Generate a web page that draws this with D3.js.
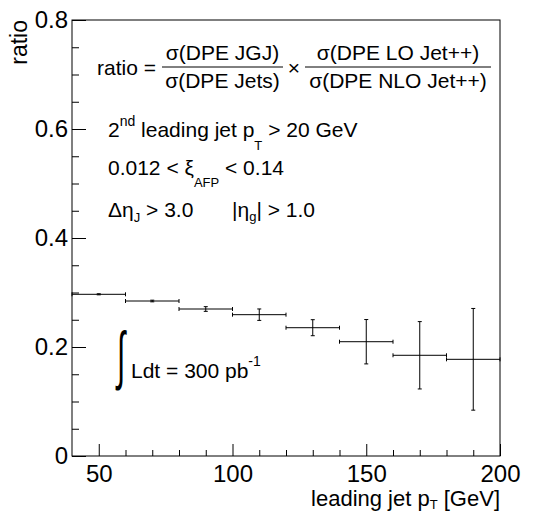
<!DOCTYPE html>
<html>
<head>
<meta charset="utf-8">
<script src="https://cdn.jsdelivr.net/npm/d3@7"></script>
<style>
  html, body { margin: 0; padding: 0; background: #fff; }
  svg { display: block; }
  text { font-family: "Liberation Sans", Arial, Helvetica, sans-serif; fill: #000; }
</style>
</head>
<body>
<script>
// ---- data ----
const binLow  = [40, 60, 80, 100, 120, 140, 160, 180];
const binHigh = [60, 80, 100, 120, 140, 160, 180, 200];
const binCenters = [50, 70, 90, 110, 130, 150, 170, 190];
const ratioValues = [0.2967, 0.2844, 0.2697, 0.2593, 0.2354, 0.2097, 0.1848, 0.1774];
const ratioErrors = [0.001, 0.0015, 0.0043, 0.0105, 0.0147, 0.0407, 0.0618, 0.0933];
const xMajorTicks = [50, 100, 150, 200];
const xMinorTicks = [60, 70, 80, 90, 110, 120, 130, 140, 160, 170, 180, 190];
const yMajorTicks = [0, 0.2, 0.4, 0.6, 0.8];
const yTickLabels = ["0", "0.2", "0.4", "0.6", "0.8"];
const yMinorTicks = [0.05, 0.1, 0.15, 0.25, 0.3, 0.35, 0.45, 0.5, 0.55, 0.65, 0.7, 0.75];

const W = 543, H = 512;
const m = {left: 72, right: 43, top: 20, bottom: 56};
const iw = W - m.left - m.right, ih = H - m.top - m.bottom;

const svg = d3.select("body").append("svg").attr("width", W).attr("height", H);
const g = svg.append("g").attr("transform", `translate(${m.left},${m.top})`);

const x = d3.scaleLinear().domain([40, 200]).range([0, iw]);
const y = d3.scaleLinear().domain([0, 0.8]).range([ih, 0]);

// axes
const xMaj = d3.axisBottom(x).tickValues(xMajorTicks).tickSizeInner(-12).tickSizeOuter(0).tickPadding(9);
const xMin = d3.axisBottom(x).tickValues(xMinorTicks).tickSizeInner(-6).tickSizeOuter(0).tickFormat("");
const yMaj = d3.axisLeft(y).tickValues(yMajorTicks).tickSizeInner(-14).tickSizeOuter(0).tickPadding(4)
  .tickFormat((d, i) => yTickLabels[i]);
const yMin = d3.axisLeft(y).tickValues(yMinorTicks).tickSizeInner(-7).tickSizeOuter(0).tickFormat("");

function styleAxis(sel) {
  sel.select(".domain").remove();
  sel.selectAll("line").attr("stroke", "#000").attr("stroke-width", 1);
  sel.selectAll("text").attr("font-size", 24).attr("font-family", "Liberation Sans, Arial, sans-serif").attr("fill", "#000");
}
g.append("g").attr("transform", `translate(0,${ih})`).call(xMaj).call(styleAxis);
g.append("g").attr("transform", `translate(0,${ih})`).call(xMin).call(styleAxis);
g.append("g").call(yMaj).call(styleAxis);
g.append("g").call(yMin).call(styleAxis);

// frame
g.append("rect").attr("x", 0).attr("y", 0).attr("width", iw).attr("height", ih)
  .attr("fill", "none").attr("stroke", "#000").attr("stroke-width", 1);

// data error bars
const data = binCenters.map((c, i) => ({c, lo: binLow[i], hi: binHigh[i], v: ratioValues[i], e: ratioErrors[i]}));
const bars = g.append("g").attr("stroke", "#000").attr("stroke-width", 1).attr("fill", "none");
data.forEach(d => {
  const yv = y(d.v);
  bars.append("line").attr("x1", x(d.lo)).attr("x2", x(d.hi)).attr("y1", yv).attr("y2", yv);
  bars.append("line").attr("x1", x(d.lo)).attr("x2", x(d.lo)).attr("y1", yv - 2).attr("y2", yv + 2);
  bars.append("line").attr("x1", x(d.hi)).attr("x2", x(d.hi)).attr("y1", yv - 2).attr("y2", yv + 2);
  const xc = x(d.c);
  bars.append("line").attr("x1", xc).attr("x2", xc).attr("y1", y(d.v - d.e)).attr("y2", y(d.v + d.e));
  bars.append("line").attr("x1", xc - 2).attr("x2", xc + 2).attr("y1", y(d.v - d.e)).attr("y2", y(d.v - d.e));
  bars.append("line").attr("x1", xc - 2).attr("x2", xc + 2).attr("y1", y(d.v + d.e)).attr("y2", y(d.v + d.e));
});

// axis titles
const xt = svg.append("text").attr("x", 500).attr("y", 506).attr("text-anchor", "end").attr("font-size", 22);
xt.append("tspan").text("leading jet p");
xt.append("tspan").attr("font-size", 13).attr("dy", 3).text("T");
xt.append("tspan").attr("dy", -3).text(" [GeV]");

svg.append("text").attr("transform", "translate(27,20) rotate(-90)").attr("text-anchor", "end")
  .attr("font-size", 23).text("ratio");

// formula
const FS = 21;
svg.append("text").attr("x", 97).attr("y", 75).attr("font-size", FS).text("ratio =");
function frac(x1, x2, num, den) {
  const cx = (x1 + x2) / 2;
  svg.append("text").attr("x", cx).attr("y", 60).attr("text-anchor", "middle").attr("font-size", FS).text(num);
  svg.append("text").attr("x", cx).attr("y", 88).attr("text-anchor", "middle").attr("font-size", FS).text(den);
  svg.append("line").attr("x1", x1).attr("x2", x2).attr("y1", 67).attr("y2", 67).attr("stroke", "#000").attr("stroke-width", 1);
}
frac(162, 283, "σ(DPE JGJ)", "σ(DPE Jets)");
svg.append("text").attr("x", 294).attr("y", 75).attr("text-anchor", "middle").attr("font-size", FS).text("×");
frac(305, 491, "σ(DPE LO Jet++)", "σ(DPE NLO Jet++)");

// cut labels
const t1 = svg.append("text").attr("x", 108).attr("y", 137).attr("font-size", FS);
t1.append("tspan").text("2");
t1.append("tspan").attr("font-size", 14).attr("dy", -11).text("nd");
t1.append("tspan").attr("dy", 11).text(" leading jet p");
t1.append("tspan").attr("font-size", 13).attr("dy", 13).text("T");
t1.append("tspan").attr("dy", -13).text(" > 20 GeV");

const t2 = svg.append("text").attr("x", 108).attr("y", 175).attr("font-size", FS);
t2.append("tspan").text("0.012 < ξ");
t2.append("tspan").attr("font-size", 13).attr("dy", 12).text("AFP");
t2.append("tspan").attr("dy", -12).text(" < 0.14");

const t3 = svg.append("text").attr("x", 108).attr("y", 217).attr("font-size", FS);
t3.append("tspan").text("Δη");
t3.append("tspan").attr("font-size", 13).attr("dy", 5).text("J");
t3.append("tspan").attr("dy", -5).text(" > 3.0");

const t4 = svg.append("text").attr("x", 232).attr("y", 217).attr("font-size", FS);
t4.append("tspan").text("|η");
t4.append("tspan").attr("font-size", 13).attr("dy", 4).text("g");
t4.append("tspan").attr("dy", -4).text("| > 1.0");

// luminosity
svg.append("text").attr("transform", "translate(117,377) scale(0.75,1.6)").attr("font-size", 40).text("∫");
const t5 = svg.append("text").attr("x", 131).attr("y", 378).attr("font-size", FS);
t5.append("tspan").text("Ldt = 300 pb");
t5.append("tspan").attr("font-size", 14).attr("dy", -12).text("-1");
</script>
</body>
</html>
